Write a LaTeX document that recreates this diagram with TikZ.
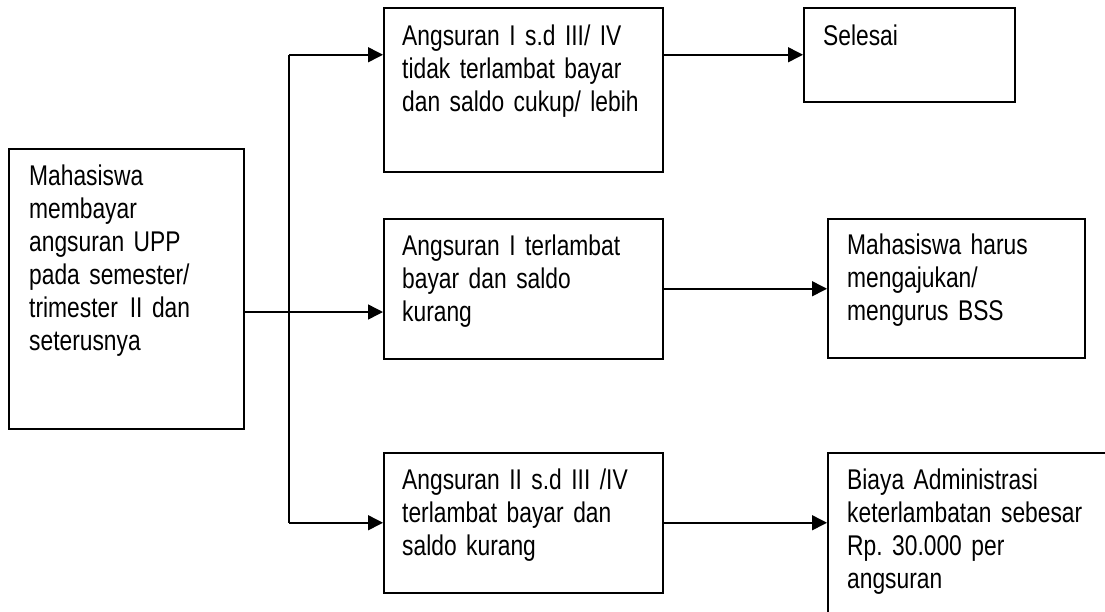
\documentclass[tikz,border=0pt]{standalone}
\usepackage{fontspec}
\setmainfont{Liberation Sans}[FakeStretch=0.80]
\usetikzlibrary{arrows.meta}
\frenchspacing
\newcommand{\boxfont}{\fontsize{28.5}{33}\selectfont\frenchspacing\spaceskip=5pt plus 1pt minus 1pt\relax}
\tikzset{
  box/.style={draw, line width=1.5pt, anchor=north west, inner sep=0pt},
  txt/.style={anchor=base west, align=left, text width=320pt, inner sep=0pt,
              font=\boxfont},
  ln/.style={line width=1.5pt},
  arr/.style={line width=1.5pt, -{Triangle[length=15pt,width=15pt]}}
}
\begin{document}
\begin{tikzpicture}[x=1pt,y=-1pt]
\useasboundingbox (0,0) rectangle (1105,611);
\clip (0,0) rectangle (1105,611);
\fill[white] (0,0) rectangle (1105,611);
% boxes
\node[box, minimum width=235pt, minimum height=280pt] (left) at (8,148) {};
\node[box, minimum width=279pt, minimum height=164pt] (top) at (383,7) {};
\node[box, minimum width=279pt, minimum height=140pt] (mid) at (383,218) {};
\node[box, minimum width=279pt, minimum height=140pt] (bot) at (383,452) {};
\node[box, minimum width=211pt, minimum height=94pt] (sel) at (803,7) {};
\node[box, minimum width=257pt, minimum height=139pt] (rmid) at (827,218) {};
\node[box, minimum width=320pt, minimum height=200pt] (rbot) at (827,452) {};
% texts
\node[txt] (tleft) at ([shift={(21,37)}]left.north west)
  {Mahasiswa\\membayar\\angsuran UPP\\pada semester/\\trimester\kern12pt II dan\\seterusnya};
\node[txt] (ttop) at ([shift={(19,38)}]top.north west)
  {Angsuran I s.d III/ IV\\tidak terlambat bayar\\dan saldo cukup/ lebih};
\node[txt] (tmid) at ([shift={(19,37)}]mid.north west)
  {Angsuran I terlambat\\bayar dan saldo\\kurang};
\node[txt] (tbot) at ([shift={(19,37)}]bot.north west)
  {Angsuran II s.d III /IV\\terlambat bayar dan\\saldo kurang};
\node[txt] (tsel) at ([shift={(20,38)}]sel.north west) {Selesai};
\node[txt] (trmid) at ([shift={(20,36)}]rmid.north west)
  {Mahasiswa harus\\mengajukan/\\mengurus BSS};
\node[txt] (trbot) at ([shift={(20,37)}]rbot.north west)
  {Biaya Administrasi\\keterlambatan sebesar\\Rp. 30.000 per\\angsuran};
% connectors
\coordinate (split) at (289,312);
\draw[arr] (left.east |- split) -- (mid.west |- split);
\draw[ln] (split |- sel.west) -- (split |- bot.west);
\draw[arr] (split |- sel.west) -- (top.west |- sel.west);
\draw[arr] (split |- bot.west) -- (bot.west);
\draw[arr] (top.east |- sel.west) -- (sel.west);
\draw[arr] (mid.east) -- (rmid.west |- mid.east);
\draw[arr] (bot.east) -- (rbot.west |- bot.east);
\end{tikzpicture}
\end{document}
